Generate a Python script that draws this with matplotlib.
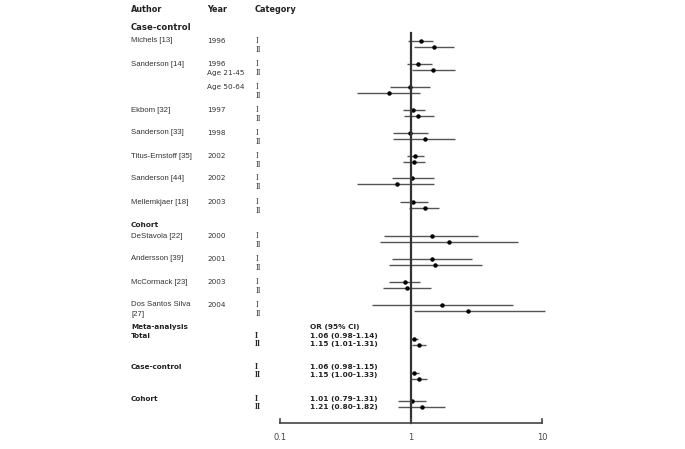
import matplotlib.pyplot as plt
from matplotlib.transforms import blended_transform_factory

# study rows (OR for category I and II)
authors = ['Michels [13]', 'Sanderson [14]', '', 'Ekbom [32]', 'Sanderson [33]',
           'Titus-Ernstoff [35]', 'Sanderson [44]', 'Mellemkjaer [18]',
           'DeStavola [22]', 'Andersson [39]', 'McCormack [23]', 'Dos Santos Silva']
authors_2 = ['', '', '', '', '', '', '', '', '', '', '', '[27]']
years = ['1996', '1996', 'Age 50-64', '1997', '1998', '2002', '2002', '2003',
         '2000', '2001', '2003', '2004']
years_2 = ['', 'Age 21-45', '', '', '', '', '', '', '', '', '', '']
or_I = [1.19, 1.14, 0.98, 1.04, 0.98, 1.07, 1.02, 1.04, 1.45, 1.45, 0.90, 1.72]
lo_I = [0.95, 0.93, 0.69, 0.87, 0.73, 0.93, 0.71, 0.82, 0.62, 0.71, 0.68, 0.50]
hi_I = [1.48, 1.45, 1.40, 1.29, 1.34, 1.25, 1.49, 1.34, 3.26, 2.94, 1.18, 6.05]
or_II = [1.51, 1.46, 0.68, 1.14, 1.29, 1.06, 0.78, 1.29, 1.96, 1.53, 0.94, 2.71]
lo_II = [1.05, 1.01, 0.39, 0.89, 0.73, 0.87, 0.39, 0.97, 0.58, 0.68, 0.61, 1.06]
hi_II = [2.14, 2.18, 1.18, 1.49, 2.18, 1.28, 1.49, 1.64, 6.60, 3.48, 1.42, 10.5]

# pooled estimates
meta_labels = ['Total', 'Case-control', 'Cohort']
meta_or_I = [1.06, 1.06, 1.01]
meta_lo_I = [0.98, 0.98, 0.79]
meta_hi_I = [1.14, 1.15, 1.31]
meta_or_II = [1.15, 1.15, 1.21]
meta_lo_II = [1.01, 1.00, 0.80]
meta_hi_II = [1.31, 1.33, 1.82]

ticks = [0.1, 1, 10]
tick_labels = ['0.1', '1', '10']

# layout (pixel rows from top of a 685x449 canvas)
row_y = [41, 64, 87, 110, 133, 156, 178, 202, 236, 259, 282, 305]
meta_y = [339, 373, 401]
meta_text_y = [336, 367, 399]
W, H = 685, 449
x_one, decade = 411, 131

fig = plt.figure(figsize=(W / 100, H / 100), dpi=100)
ax = fig.add_axes([0, 0, 1, 1])
ax.set_xscale('log')
ax.set_xlim(10 ** ((0 - x_one) / decade), 10 ** ((W - x_one) / decade))
ax.set_ylim(H, 0)
ax.axis('off')
tr = blended_transform_factory(ax.transAxes, ax.transData)

def px(x):
    return x / W

sans = 'Liberation Sans'
serif = 'Liberation Serif'
tc = '#333333'
bold = dict(family='DejaVu Sans', weight='bold', color='#222222', transform=tr, va='center')
small = dict(family=sans, size=5.6, color=tc, transform=tr, va='center')
yr = dict(family='DejaVu Sans', size=5.2, color=tc, transform=tr, va='center')
cat = dict(family=serif, size=6.0, color=tc, transform=tr, va='center')
mcat = dict(family=serif, weight='bold', size=5.6, color='#222222', transform=tr,
            va='center')

# headers
ax.text(px(131), 10, 'Author', size=5.9, **bold)
ax.text(px(207), 10, 'Year', size=5.9, **bold)
ax.text(px(255), 10, 'Category', size=5.9, **bold)
ax.text(px(131), 28, 'Case-control', size=6.1, **bold)
ax.text(px(131), 225, 'Cohort', size=5.3, **bold)

ci_c = '#555555'
ms = 2.2
for i, y in enumerate(row_y):
    ax.text(px(131), y, authors[i], **small)
    ax.text(px(131), y + 9.5, authors_2[i], **small)
    ax.text(px(207), y, years[i], **yr)
    ax.text(px(207), y + 9.5, years_2[i], **yr)
    ax.text(px(256), y, 'I', **cat)
    ax.text(px(256), y + 9, 'II', **cat)
    ax.plot([lo_I[i], hi_I[i]], [y, y], color=ci_c, lw=1.0, solid_capstyle='butt')
    ax.plot(or_I[i], y, 'o', color='black', ms=ms)
    ax.plot([lo_II[i], hi_II[i]], [y + 6, y + 6], color=ci_c, lw=1.0, solid_capstyle='butt')
    ax.plot(or_II[i], y + 6, 'o', color='black', ms=ms)

# meta-analysis block
ax.text(px(131), 327, 'Meta-analysis', size=5.2, **bold)
ax.text(px(310), 327, 'OR (95% CI)', size=5.3, **bold)
for i, y in enumerate(meta_y):
    ty = meta_text_y[i]
    ax.text(px(131), ty, meta_labels[i], size=5.2, **bold)
    ax.text(px(255), ty, 'I', **mcat)
    ax.text(px(255), ty + 8, 'II', **mcat)
    ax.text(px(310), ty, f'{meta_or_I[i]:.2f} ({meta_lo_I[i]:.2f}-{meta_hi_I[i]:.2f})',
            size=5.3, **bold)
    ax.text(px(310), ty + 8, f'{meta_or_II[i]:.2f} ({meta_lo_II[i]:.2f}-{meta_hi_II[i]:.2f})',
            size=5.3, **bold)
    ax.plot([meta_lo_I[i], meta_hi_I[i]], [y, y], color=ci_c, lw=1.0, solid_capstyle='butt')
    ax.plot(meta_or_I[i], y, 'o', color='black', ms=ms)
    ax.plot([meta_lo_II[i], meta_hi_II[i]], [y + 6, y + 6], color=ci_c, lw=1.0,
            solid_capstyle='butt')
    ax.plot(meta_or_II[i], y + 6, 'o', color='black', ms=ms)

# reference line and bottom axis
axis_y = 423
ax.plot([1, 1], [33, axis_y], color='#333333', lw=1.6)
ax.plot([ticks[0], ticks[-1]], [axis_y, axis_y], color='#444444', lw=1.2)
for t, lab in zip(ticks, tick_labels):
    ax.plot([t, t], [axis_y, axis_y - 4], color='#444444', lw=1.2)
    ax.text(t, 438, lab, ha='center', va='center', family='DejaVu Sans', size=6.0,
            color='#444444')

fig.savefig('out.png', dpi=100, facecolor='white')
